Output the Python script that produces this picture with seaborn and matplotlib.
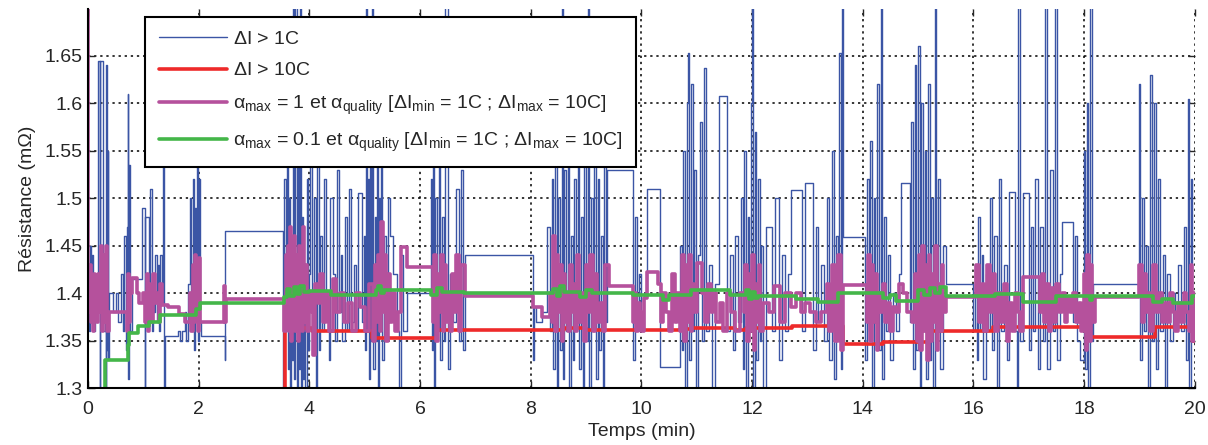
import numpy as np
import pandas as pd
import matplotlib
matplotlib.use("Agg")
import matplotlib.pyplot as plt
import seaborn as sns

# values (time in min, resistance in mOhm), step traces
blue_t = [0.00, 0.02, 0.04, 0.06, 0.08, 0.10, 0.12, 0.14, 0.16, 0.19,
          0.21, 0.22, 0.28, 0.30, 0.32, 0.33, 0.35, 0.36, 0.37, 0.38,
          0.46, 0.50, 0.55, 0.60, 0.63, 0.66, 0.68, 0.70, 0.72, 0.73,
          0.74, 0.76, 0.80, 0.97, 1.03, 1.04, 1.10, 1.13, 1.15, 1.18,
          1.20, 1.22, 1.25, 1.27, 1.29, 1.31, 1.33, 1.36, 1.38, 1.40,
          1.62, 1.66, 1.70, 1.75, 1.78, 1.80, 1.85, 1.87, 1.89, 1.91,
          1.93, 1.95, 1.97, 1.98, 2.00, 2.02, 2.04, 2.47, 2.48, 3.53,
          3.55, 3.57, 3.59, 3.61, 3.63, 3.65, 3.67, 3.69, 3.71, 3.73,
          3.75, 3.77, 3.79, 3.81, 3.83, 3.85, 3.87, 3.89, 3.91, 3.93,
          3.95, 3.97, 3.99, 4.02, 4.05, 4.08, 4.12, 4.14, 4.17, 4.20,
          4.23, 4.27, 4.31, 4.35, 4.38, 4.42, 4.46, 4.50, 4.53, 4.57,
          4.60, 4.64, 4.68, 4.72, 4.76, 4.80, 4.84, 4.88, 4.95, 4.98,
          5.00, 5.02, 5.04, 5.06, 5.08, 5.10, 5.12, 5.14, 5.16, 5.18,
          5.20, 5.22, 5.24, 5.26, 5.28, 5.30, 5.32, 5.35, 5.38, 5.42,
          5.45, 5.52, 5.58, 5.62, 5.66, 5.70, 5.76, 6.20, 6.22, 6.24,
          6.26, 6.28, 6.31, 6.34, 6.37, 6.40, 6.43, 6.46, 6.50, 6.55,
          6.60, 6.65, 6.70, 6.74, 6.78, 6.81, 8.04, 8.06, 8.10, 8.20,
          8.30, 8.35, 8.38, 8.41, 8.44, 8.47, 8.50, 8.53, 8.56, 8.58,
          8.61, 8.64, 8.67, 8.70, 8.73, 8.76, 8.79, 8.82, 8.85, 8.88,
          8.91, 8.94, 8.97, 9.00, 9.03, 9.06, 9.09, 9.12, 9.15, 9.18,
          9.21, 9.24, 9.27, 9.30, 9.33, 9.36, 9.38, 9.85, 9.88, 9.92,
          9.96, 10.00, 10.05, 10.10, 10.33, 10.70, 10.73, 10.76, 10.79, 10.82,
          10.85, 10.87, 10.90, 10.93, 10.96, 10.99, 11.02, 11.06, 11.10, 11.14,
          11.17, 11.22, 11.28, 11.34, 11.40, 11.55, 11.60, 11.65, 11.70, 11.75,
          11.80, 11.83, 11.86, 11.89, 11.92, 11.95, 11.98, 12.00, 12.02, 12.05,
          12.08, 12.11, 12.14, 12.17, 12.20, 12.25, 12.37, 12.42, 12.48, 12.55,
          12.60, 12.65, 12.70, 12.90, 12.95, 13.10, 13.15, 13.20, 13.25, 13.30,
          13.35, 13.40, 13.44, 13.48, 13.52, 13.55, 13.58, 13.60, 13.62, 13.64,
          14.05, 14.08, 14.11, 14.14, 14.17, 14.20, 14.23, 14.26, 14.29, 14.33,
          14.35, 14.38, 14.42, 14.46, 14.50, 14.55, 14.60, 14.65, 14.70, 14.85,
          14.88, 14.91, 14.94, 14.97, 15.00, 15.03, 15.06, 15.09, 15.12, 15.15,
          15.18, 15.21, 15.24, 15.27, 15.30, 15.33, 15.36, 15.40, 15.45, 15.50,
          15.57, 16.00, 16.03, 16.06, 16.09, 16.12, 16.15, 16.18, 16.22, 16.26,
          16.30, 16.34, 16.38, 16.42, 16.46, 16.50, 16.55, 16.60, 16.65, 16.75,
          16.78, 16.80, 16.84, 16.90, 17.00, 17.04, 17.08, 17.12, 17.16, 17.20,
          17.26, 17.30, 17.33, 17.38, 17.44, 17.48, 17.52, 17.56, 17.60, 17.80,
          17.84, 17.88, 17.92, 18.00, 18.02, 18.05, 18.08, 18.11, 18.14, 18.17,
          18.20, 19.00, 19.02, 19.05, 19.08, 19.12, 19.16, 19.20, 19.23, 19.26,
          19.30, 19.34, 19.38, 19.42, 19.46, 19.50, 19.55, 19.60, 19.65, 19.70,
          19.75, 19.80, 19.84, 19.87, 19.90, 19.93, 19.96, 19.98, 20.00]
blue_r = [1.40, 1.36, 1.45, 1.37, 1.44, 1.36, 1.40, 1.37, 1.41, 1.645,
          1.30, 1.645, 1.36, 1.42, 1.30, 1.64, 1.34, 1.55, 1.33, 1.40,
          1.38, 1.40, 1.37, 1.42, 1.36, 1.46, 1.34, 1.47, 1.61, 1.31,
          1.535, 1.36, 1.415, 1.49, 1.30, 1.48, 1.39, 1.51, 1.36, 1.42,
          1.38, 1.44, 1.37, 1.43, 1.36, 1.44, 1.39, 1.555, 1.30, 1.355,
          1.36, 1.35, 1.36, 1.38, 1.35, 1.41, 1.50, 1.36, 1.52, 1.34,
          1.49, 1.38, 1.58, 1.35, 1.52, 1.37, 1.355, 1.33, 1.465, 1.30,
          1.52, 1.36, 1.60, 1.32, 1.50, 1.30, 1.45, 1.33, 1.75, 1.31,
          1.75, 1.30, 1.55, 1.32, 1.75, 1.30, 1.48, 1.31, 1.40, 1.30,
          1.52, 1.34, 1.42, 1.56, 1.38, 1.50, 1.30, 1.55, 1.34, 1.46,
          1.36, 1.52, 1.40, 1.33, 1.50, 1.42, 1.35, 1.53, 1.38, 1.44,
          1.35, 1.48, 1.36, 1.51, 1.37, 1.43, 1.36, 1.505, 1.37, 1.46,
          1.34, 1.75, 1.36, 1.52, 1.31, 1.62, 1.35, 1.75, 1.32, 1.48,
          1.35, 1.56, 1.30, 1.50, 1.37, 1.58, 1.33, 1.46, 1.38, 1.50,
          1.46, 1.42, 1.36, 1.30, 1.44, 1.36, 1.40, 1.52, 1.34, 1.57,
          1.30, 1.50, 1.36, 1.54, 1.33, 1.48, 1.35, 1.75, 1.32, 1.42,
          1.37, 1.51, 1.35, 1.53, 1.34, 1.44, 1.33, 1.385, 1.37, 1.38,
          1.47, 1.36, 1.52, 1.32, 1.56, 1.30, 1.50, 1.34, 1.75, 1.31,
          1.53, 1.36, 1.58, 1.30, 1.46, 1.33, 1.52, 1.38, 1.60, 1.32,
          1.48, 1.30, 1.55, 1.35, 1.75, 1.30, 1.50, 1.36, 1.57, 1.31,
          1.52, 1.34, 1.46, 1.30, 1.54, 1.37, 1.53, 1.33, 1.48, 1.37,
          1.42, 1.36, 1.40, 1.51, 1.322, 1.45, 1.34, 1.55, 1.30, 1.60,
          1.653, 1.33, 1.62, 1.36, 1.53, 1.30, 1.44, 1.58, 1.35, 1.637,
          1.36, 1.43, 1.30, 1.41, 1.608, 1.36, 1.44, 1.34, 1.46, 1.37,
          1.50, 1.32, 1.55, 1.30, 1.48, 1.36, 1.60, 1.75, 1.30, 1.57,
          1.33, 1.52, 1.35, 1.45, 1.30, 1.47, 1.36, 1.50, 1.33, 1.44,
          1.36, 1.42, 1.509, 1.36, 1.516, 1.34, 1.47, 1.37, 1.43, 1.35,
          1.50, 1.33, 1.55, 1.31, 1.46, 1.36, 1.653, 1.32, 1.75, 1.459,
          1.33, 1.52, 1.36, 1.56, 1.30, 1.50, 1.38, 1.62, 1.34, 1.75,
          1.31, 1.48, 1.36, 1.44, 1.33, 1.40, 1.36, 1.42, 1.516, 1.37,
          1.58, 1.32, 1.64, 1.34, 1.66, 1.30, 1.60, 1.36, 1.55, 1.31,
          1.62, 1.33, 1.50, 1.30, 1.75, 1.36, 1.52, 1.32, 1.45, 1.41,
          1.41, 1.36, 1.43, 1.33, 1.48, 1.36, 1.44, 1.31, 1.42, 1.36,
          1.50, 1.34, 1.46, 1.30, 1.52, 1.36, 1.43, 1.33, 1.507, 1.36,
          1.30, 1.75, 1.35, 1.505, 1.34, 1.47, 1.36, 1.52, 1.32, 1.47,
          1.35, 1.75, 1.32, 1.53, 1.36, 1.75, 1.33, 1.42, 1.475, 1.37,
          1.46, 1.35, 1.33, 1.55, 1.32, 1.60, 1.30, 1.75, 1.35, 1.41,
          1.41, 1.62, 1.33, 1.50, 1.36, 1.45, 1.30, 1.63, 1.35, 1.60,
          1.32, 1.52, 1.36, 1.44, 1.30, 1.42, 1.35, 1.40, 1.37, 1.43,
          1.36, 1.47, 1.33, 1.605, 1.30, 1.52, 1.36, 1.40, 1.40]

red_t = [3.50, 3.56, 4.04, 5.13, 6.30, 8.60, 9.00, 10.70, 10.90, 11.70,
         11.90, 12.73, 13.64, 14.36, 15.20, 16.35, 18.10, 19.28, 19.97, 20.00]
red_r = [1.25, 1.363, 1.360, 1.353, 1.361, 1.363, 1.361, 1.362, 1.363, 1.361,
         1.363, 1.365, 1.346, 1.348, 1.360, 1.364, 1.354, 1.364, 1.35, 1.35]

mag_t = [0.00, 0.01, 0.03, 0.05, 0.07, 0.09, 0.11, 0.13, 0.15, 0.17,
         0.19, 0.21, 0.23, 0.25, 0.27, 0.29, 0.31, 0.33, 0.35, 0.38,
         0.70, 0.72, 0.74, 0.76, 0.80, 0.88, 0.92, 1.00, 1.04, 1.06,
         1.08, 1.10, 1.12, 1.14, 1.16, 1.18, 1.21, 1.25, 1.28, 1.30,
         1.33, 1.45, 1.65, 1.75, 1.85, 1.87, 1.89, 1.91, 1.93, 1.95,
         1.97, 1.99, 2.01, 2.03, 2.45, 2.47, 2.50, 3.55, 3.57, 3.59,
         3.61, 3.63, 3.65, 3.67, 3.69, 3.71, 3.73, 3.75, 3.77, 3.79,
         3.81, 3.83, 3.85, 3.87, 3.89, 3.91, 3.93, 3.96, 4.00, 4.05,
         4.07, 4.10, 4.15, 4.20, 4.25, 4.30, 4.36, 4.42, 4.48, 4.55,
         4.62, 4.70, 4.78, 4.85, 4.92, 5.00, 5.08, 5.15, 5.18, 5.21,
         5.24, 5.27, 5.30, 5.33, 5.36, 5.39, 5.42, 5.45, 5.50, 5.55,
         5.60, 5.65, 5.76, 6.23, 6.26, 6.29, 6.32, 6.35, 6.38, 6.41,
         6.44, 6.47, 6.50, 6.54, 6.58, 6.62, 6.66, 6.70, 6.74, 6.81,
         8.04, 8.20, 8.35, 8.38, 8.41, 8.44, 8.47, 8.50, 8.53, 8.56,
         8.59, 8.62, 8.65, 8.68, 8.71, 8.74, 8.77, 8.80, 8.84, 8.88,
         8.92, 8.96, 9.00, 9.04, 9.08, 9.12, 9.16, 9.20, 9.25, 9.30,
         9.35, 9.41, 9.85, 9.88, 9.91, 9.94, 9.97, 10.00, 10.05, 10.10,
         10.30, 10.35, 10.40, 10.45, 10.50, 10.55, 10.60, 10.65, 10.70, 10.74,
         10.77, 10.80, 10.83, 10.86, 10.89, 10.92, 10.95, 11.00, 11.10, 11.15,
         11.20, 11.25, 11.30, 11.35, 11.42, 11.48, 11.55, 11.62, 11.70, 11.78,
         11.85, 11.88, 11.91, 11.94, 11.97, 12.00, 12.03, 12.06, 12.09, 12.12,
         12.15, 12.20, 12.30, 12.40, 12.50, 12.60, 12.70, 12.80, 12.88, 12.96,
         13.05, 13.15, 13.25, 13.35, 13.40, 13.45, 13.50, 13.55, 13.60, 13.64,
         14.07, 14.10, 14.13, 14.16, 14.19, 14.22, 14.25, 14.28, 14.32, 14.36,
         14.40, 14.45, 14.50, 14.55, 14.60, 14.66, 14.72, 14.80, 14.90, 14.95,
         14.98, 15.01, 15.04, 15.07, 15.10, 15.13, 15.16, 15.19, 15.22, 15.25,
         15.28, 15.31, 15.34, 15.37, 15.40, 15.43, 15.46, 15.50, 16.05, 16.10,
         16.15, 16.20, 16.25, 16.30, 16.35, 16.40, 16.45, 16.50, 16.55, 16.60,
         16.65, 16.70, 16.75, 16.80, 16.85, 16.90, 17.20, 17.24, 17.28, 17.32,
         17.36, 17.40, 17.45, 17.50, 17.55, 17.60, 17.65, 17.70, 17.75, 17.80,
         17.85, 17.90, 17.95, 18.00, 18.03, 18.06, 18.09, 18.12, 18.15, 18.20,
         19.00, 19.04, 19.08, 19.12, 19.16, 19.20, 19.25, 19.30, 19.35, 19.40,
         19.45, 19.50, 19.55, 19.60, 19.65, 19.70, 19.75, 19.80, 19.85, 19.90,
         19.93, 19.96, 19.98, 20.00]
mag_r = [1.75, 1.38, 1.43, 1.37, 1.41, 1.36, 1.42, 1.38, 1.40, 1.37,
         1.42, 1.38, 1.45, 1.36, 1.40, 1.44, 1.37, 1.45, 1.36, 1.380,
         1.36, 1.42, 1.37, 1.40, 1.416, 1.40, 1.39, 1.40, 1.37, 1.42,
         1.36, 1.41, 1.38, 1.40, 1.37, 1.42, 1.39, 1.40, 1.37, 1.41,
         1.387, 1.385, 1.378, 1.37, 1.40, 1.36, 1.43, 1.37, 1.44, 1.38,
         1.42, 1.36, 1.437, 1.37, 1.407, 1.37, 1.394, 1.36, 1.44, 1.37,
         1.45, 1.36, 1.47, 1.35, 1.43, 1.37, 1.46, 1.36, 1.44, 1.35,
         1.45, 1.38, 1.42, 1.36, 1.47, 1.37, 1.43, 1.36, 1.40, 1.38,
         1.335, 1.41, 1.39, 1.42, 1.37, 1.40, 1.36, 1.415, 1.38, 1.40,
         1.37, 1.39, 1.36, 1.40, 1.385, 1.36, 1.41, 1.35, 1.43, 1.37,
         1.44, 1.36, 1.475, 1.38, 1.44, 1.35, 1.42, 1.37, 1.40, 1.36,
         1.38, 1.449, 1.428, 1.37, 1.44, 1.35, 1.42, 1.38, 1.44, 1.36,
         1.43, 1.37, 1.40, 1.36, 1.42, 1.38, 1.44, 1.36, 1.43, 1.397,
         1.385, 1.375, 1.40, 1.37, 1.46, 1.36, 1.44, 1.38, 1.43, 1.35,
         1.42, 1.37, 1.40, 1.36, 1.43, 1.38, 1.41, 1.36, 1.44, 1.37,
         1.40, 1.35, 1.43, 1.38, 1.44, 1.36, 1.42, 1.37, 1.39, 1.36,
         1.43, 1.408, 1.37, 1.40, 1.36, 1.39, 1.38, 1.36, 1.395, 1.422,
         1.41, 1.37, 1.40, 1.38, 1.36, 1.42, 1.37, 1.40, 1.36, 1.44,
         1.35, 1.43, 1.37, 1.44, 1.36, 1.41, 1.38, 1.432, 1.40, 1.37,
         1.41, 1.38, 1.40, 1.37, 1.39, 1.36, 1.40, 1.38, 1.36, 1.40,
         1.38, 1.43, 1.35, 1.42, 1.36, 1.44, 1.34, 1.41, 1.37, 1.43,
         1.36, 1.39, 1.38, 1.407, 1.37, 1.40, 1.385, 1.40, 1.38, 1.39,
         1.38, 1.37, 1.38, 1.41, 1.36, 1.43, 1.35, 1.44, 1.34, 1.409,
         1.37, 1.44, 1.35, 1.43, 1.37, 1.42, 1.34, 1.40, 1.38, 1.41,
         1.37, 1.39, 1.36, 1.385, 1.38, 1.41, 1.40, 1.38, 1.37, 1.42,
         1.35, 1.44, 1.34, 1.45, 1.36, 1.43, 1.33, 1.44, 1.35, 1.42,
         1.37, 1.45, 1.34, 1.41, 1.36, 1.43, 1.38, 1.396, 1.43, 1.37,
         1.41, 1.36, 1.43, 1.38, 1.42, 1.36, 1.40, 1.37, 1.41, 1.35,
         1.39, 1.36, 1.40, 1.38, 1.36, 1.417, 1.38, 1.42, 1.37, 1.41,
         1.36, 1.405, 1.37, 1.41, 1.38, 1.40, 1.37, 1.395, 1.38, 1.40,
         1.37, 1.39, 1.36, 1.42, 1.34, 1.44, 1.35, 1.43, 1.37, 1.396,
         1.43, 1.37, 1.42, 1.38, 1.40, 1.36, 1.43, 1.38, 1.40, 1.37,
         1.39, 1.37, 1.40, 1.38, 1.36, 1.39, 1.37, 1.40, 1.38, 1.36,
         1.43, 1.35, 1.40, 1.40]

green_t = [0.30, 0.31, 0.72, 0.75, 0.90, 1.10, 1.30, 1.95, 2.02, 3.55,
           3.60, 3.66, 3.72, 3.78, 3.84, 3.90, 4.00, 4.40, 5.20, 5.25,
           5.30, 5.35, 6.20, 6.30, 6.40, 6.80, 8.40, 8.47, 8.53, 8.60,
           8.90, 9.00, 9.10, 9.85, 10.40, 10.50, 10.90, 11.60, 11.90, 11.95,
           12.00, 12.05, 12.10, 12.80, 13.20, 13.55, 14.36, 14.50, 14.60, 15.00,
           15.10, 15.22, 15.30, 15.40, 15.50, 16.40, 16.90, 17.50, 18.10, 18.15,
           19.25, 19.40, 19.60, 19.95, 20.00]
green_r = [1.29, 1.330, 1.345, 1.358, 1.365, 1.370, 1.377, 1.383, 1.390, 1.396,
           1.404, 1.397, 1.406, 1.399, 1.408, 1.401, 1.402, 1.398, 1.403, 1.408,
           1.400, 1.403, 1.398, 1.405, 1.401, 1.400, 1.404, 1.397, 1.408, 1.401,
           1.396, 1.403, 1.400, 1.398, 1.393, 1.398, 1.403, 1.398, 1.403, 1.394,
           1.401, 1.395, 1.397, 1.394, 1.391, 1.400, 1.395, 1.398, 1.392, 1.403,
           1.398, 1.405, 1.400, 1.406, 1.397, 1.399, 1.391, 1.397, 1.393, 1.397,
           1.391, 1.394, 1.390, 1.397, 1.397]

labels = [r"$\Delta$I > 1C",
          r"$\Delta$I > 10C",
          r"$\alpha$$_{\mathrm{max}}$ = 1 et $\alpha$$_{\mathrm{quality}}$ [$\Delta$I$_{\mathrm{min}}$ = 1C ; $\Delta$I$_{\mathrm{max}}$ = 10C]",
          r"$\alpha$$_{\mathrm{max}}$ = 0.1 et $\alpha$$_{\mathrm{quality}}$ [$\Delta$I$_{\mathrm{min}}$ = 1C ; $\Delta$I$_{\mathrm{max}}$ = 10C]"]
colors = ["#3b55a5", "#ee2a2a", "#b5519c", "#44b649"]
yticks = [1.3, 1.35, 1.4, 1.45, 1.5, 1.55, 1.6, 1.65]
ytick_labels = ["1.3", "1.35", "1.4", "1.45", "1.5", "1.55", "1.6", "1.65"]

sns.set_style("ticks")
plt.rcParams["font.family"] = ["Liberation Sans", "DejaVu Sans"]
plt.rcParams["mathtext.fontset"] = "custom"
plt.rcParams["mathtext.rm"] = "Liberation Sans"
plt.rcParams["mathtext.it"] = "Liberation Sans"
plt.rcParams["mathtext.sf"] = "Liberation Sans"

fig = plt.figure(figsize=(12.08, 4.45), dpi=100)
ax = fig.add_axes([0.0728, 0.128, 0.9162, 0.852])

series = [(blue_t, blue_r, 1.0), (red_t, red_r, 2.6),
          (mag_t, mag_r, 2.6), (green_t, green_r, 2.6)]
for (t, r, lw), lab, col in zip(series, labels, colors):
    df = pd.DataFrame({"t": t, "r": r})
    sns.lineplot(data=df, x="t", y="r", ax=ax, color=col, lw=lw,
                 drawstyle="steps-post", estimator=None, sort=False,
                 label=lab, legend=False)

ax.set_xlim(0, 20)
ax.set_ylim(1.3, 1.6995)
ax.set_xticks(range(0, 21, 2))
ax.set_yticks(yticks)
ax.set_yticklabels(ytick_labels)
ax.tick_params(direction="in", top=True, right=True, labelsize=14,
               length=5, width=1)
ax.tick_params(axis="x", pad=9)
ax.tick_params(axis="y", pad=4)
ax.grid(True, color="black", linestyle=(0, (1.5, 2.5)), lw=1.1)
for side in ["top", "right"]:
    ax.spines[side].set_visible(False)
for side in ["left", "bottom"]:
    ax.spines[side].set_linewidth(1.5)
    ax.spines[side].set_color("black")

ax.set_xlabel("Temps (min)", fontsize=14, labelpad=4)
ax.set_ylabel("Résistance (mΩ)", fontsize=14, labelpad=6)

leg = ax.legend(loc="upper left", bbox_to_anchor=(0.052, 0.979),
                borderaxespad=0, fontsize=14, frameon=True, fancybox=False,
                framealpha=1, edgecolor="black", handlelength=3.5,
                labelspacing=0.72, borderpad=0.68, handletextpad=0.3)
leg.get_frame().set_linewidth(1.5)

fig.savefig("out.png", dpi=100)
